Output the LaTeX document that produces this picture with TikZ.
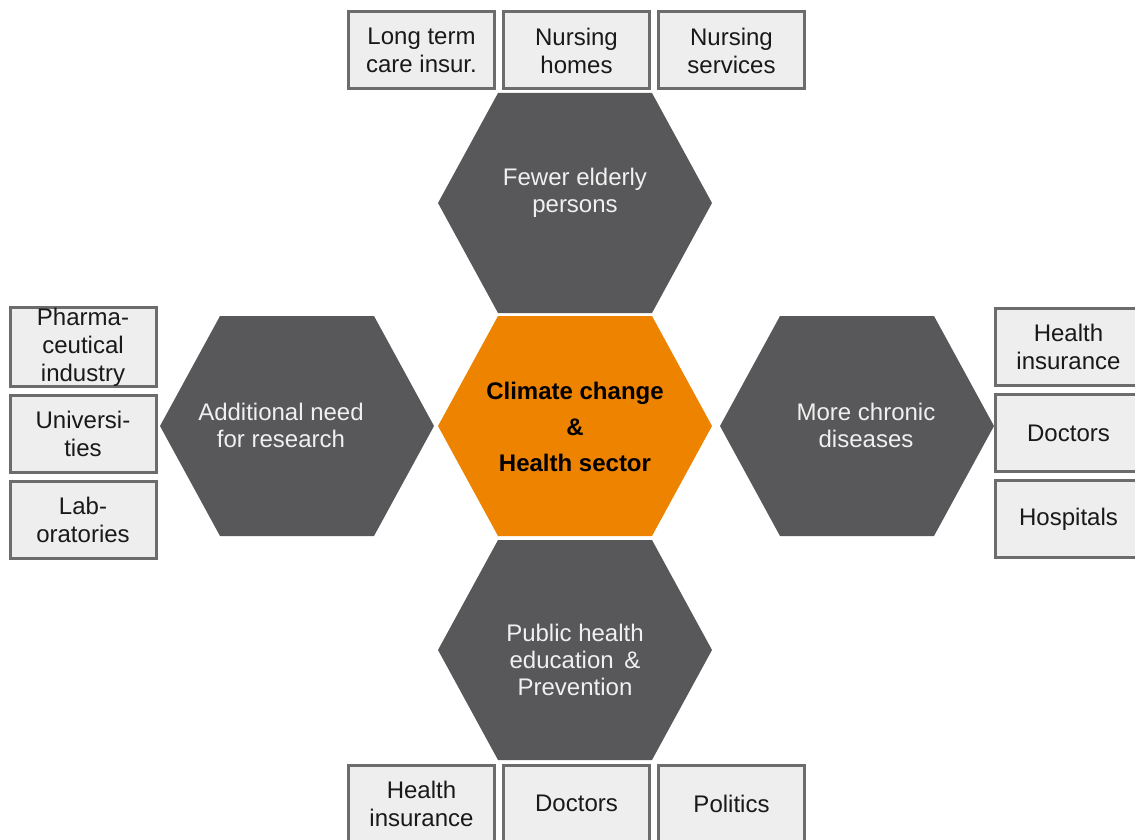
\documentclass[tikz,border=0pt]{standalone}
\usepackage{fontspec}
\setmainfont{Liberation Sans}
\usetikzlibrary{positioning}

\definecolor{hexgray}{RGB}{88,88,90}
\definecolor{hexorange}{RGB}{238,131,0}
\definecolor{boxfill}{RGB}{238,238,238}
\definecolor{boxline}{RGB}{108,108,108}

\begin{document}
\begin{tikzpicture}[x=0.5pt,y=-0.5pt,
    infobox/.style={draw=boxline,line width=1.5pt,fill=boxfill,minimum width=73pt,
      minimum height=38.5pt,inner sep=0pt,align=center,text=black!90,
      font=\fontsize{12}{14}\selectfont},
    hextext/.style={text=white!94!black,align=center,font=\fontsize{12}{13.5}\selectfont},
    maintext/.style={text=black,align=center,font=\bfseries\fontsize{12}{18}\selectfont}]
  \useasboundingbox (0,0) rectangle (1135,840);
  % hexagon centres
  \coordinate (elderly) at (575,203);
  \coordinate (research) at (297,426);
  \coordinate (climate) at (575,426);
  \coordinate (chronic) at (857,426);
  \coordinate (prevention) at (575,650);
  \foreach \c/\col in {elderly/hexgray,research/hexgray,chronic/hexgray,prevention/hexgray,climate/hexorange}
    \fill[\col] (\c) ++(-137,0) -- ++(60,-110) -- ++(154,0) -- ++(60,110)
      -- ++(-60,110) -- ++(-154,0) -- cycle;
  \node[maintext] (climatetxt) at (575,427) {Climate change\\\&\\Health sector};
  \node[hextext] (elderlytxt) at (575,193) {Fewer elderly\\persons};
  \node[hextext] (researchtxt) at (281,425) {Additional need\\for research};
  \node[hextext] (chronictxt) at (866,425) {More chronic\\diseases};
  \node[hextext] (preventiontxt) at (575,660) {Public health\\education \,\&\\Prevention};
  % top row
  \node[infobox] (ltc) at (421.5,50.5) {Long term\\care insur.};
  \node[infobox] (homes) [right=3pt of ltc] {Nursing\\homes};
  \node[infobox] (services) [right=3pt of homes] {Nursing\\services};
  % left column
  \node[infobox] (pharma) at (83,347) {Pharma-\\ceutical\\industry};
  \node[infobox] (univ) [below=3pt of pharma] {Universi-\\ties};
  \node[infobox] (labs) [below=3pt of univ] {Lab-\\oratories};
  % right column
  \node[infobox] (insurR) at (1068.5,347) {Health\\insurance};
  \node[infobox] (doctorsR) [below=3pt of insurR] {Doctors};
  \node[infobox] (hospitals) [below=3pt of doctorsR] {Hospitals};
  % bottom row
  \node[infobox] (insurB) at (421.5,803.5) {Health\\insurance};
  \node[infobox] (doctorsB) [right=3pt of insurB] {Doctors};
  \node[infobox] (politics) [right=3pt of doctorsB] {Politics};
\end{tikzpicture}
\end{document}
